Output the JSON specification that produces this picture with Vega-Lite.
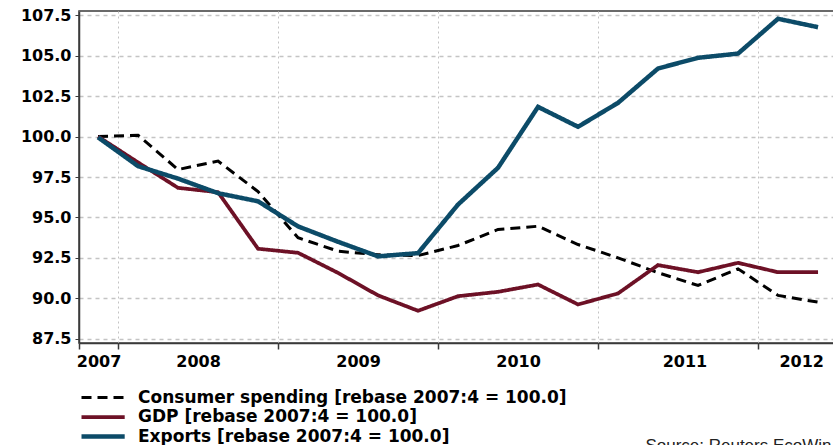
{
  "$schema": "https://vega.github.io/schema/vega-lite/v6.json",
  "autosize": "none",
  "width": 760,
  "height": 332,
  "padding": {"left": 79, "top": 11, "right": 0, "bottom": 102},
  "background": "white",
  "config": {
    "view": {"stroke": "#3a3a3a", "strokeWidth": 1.5},
    "font": "DejaVu Sans"
  },
  "title": {
    "text": "Source: Reuters EcoWin",
    "orient": "bottom",
    "anchor": "start",
    "font": "Liberation Sans",
    "fontSize": 17,
    "fontWeight": "normal",
    "color": "#222222",
    "offset": -8,
    "dx": 625
  },
  "datasets": {
    "series": [
      {"t": 2007.875, "s": "Consumer spending [rebase 2007:4 = 100.0]", "v": 100.0},
      {"t": 2008.125, "s": "Consumer spending [rebase 2007:4 = 100.0]", "v": 100.08},
      {"t": 2008.375, "s": "Consumer spending [rebase 2007:4 = 100.0]", "v": 97.96},
      {"t": 2008.625, "s": "Consumer spending [rebase 2007:4 = 100.0]", "v": 98.48},
      {"t": 2008.875, "s": "Consumer spending [rebase 2007:4 = 100.0]", "v": 96.6},
      {"t": 2009.125, "s": "Consumer spending [rebase 2007:4 = 100.0]", "v": 93.75},
      {"t": 2009.375, "s": "Consumer spending [rebase 2007:4 = 100.0]", "v": 92.92},
      {"t": 2009.625, "s": "Consumer spending [rebase 2007:4 = 100.0]", "v": 92.7},
      {"t": 2009.875, "s": "Consumer spending [rebase 2007:4 = 100.0]", "v": 92.65},
      {"t": 2010.125, "s": "Consumer spending [rebase 2007:4 = 100.0]", "v": 93.27},
      {"t": 2010.375, "s": "Consumer spending [rebase 2007:4 = 100.0]", "v": 94.26},
      {"t": 2010.625, "s": "Consumer spending [rebase 2007:4 = 100.0]", "v": 94.46},
      {"t": 2010.875, "s": "Consumer spending [rebase 2007:4 = 100.0]", "v": 93.33},
      {"t": 2011.125, "s": "Consumer spending [rebase 2007:4 = 100.0]", "v": 92.51},
      {"t": 2011.375, "s": "Consumer spending [rebase 2007:4 = 100.0]", "v": 91.59},
      {"t": 2011.625, "s": "Consumer spending [rebase 2007:4 = 100.0]", "v": 90.8},
      {"t": 2011.875, "s": "Consumer spending [rebase 2007:4 = 100.0]", "v": 91.83},
      {"t": 2012.125, "s": "Consumer spending [rebase 2007:4 = 100.0]", "v": 90.19},
      {"t": 2012.375, "s": "Consumer spending [rebase 2007:4 = 100.0]", "v": 89.77},
      {"t": 2007.875, "s": "GDP [rebase 2007:4 = 100.0]", "v": 100.0},
      {"t": 2008.125, "s": "GDP [rebase 2007:4 = 100.0]", "v": 98.4},
      {"t": 2008.375, "s": "GDP [rebase 2007:4 = 100.0]", "v": 96.83},
      {"t": 2008.625, "s": "GDP [rebase 2007:4 = 100.0]", "v": 96.56},
      {"t": 2008.875, "s": "GDP [rebase 2007:4 = 100.0]", "v": 93.07},
      {"t": 2009.125, "s": "GDP [rebase 2007:4 = 100.0]", "v": 92.82},
      {"t": 2009.375, "s": "GDP [rebase 2007:4 = 100.0]", "v": 91.58},
      {"t": 2009.625, "s": "GDP [rebase 2007:4 = 100.0]", "v": 90.19},
      {"t": 2009.875, "s": "GDP [rebase 2007:4 = 100.0]", "v": 89.24},
      {"t": 2010.125, "s": "GDP [rebase 2007:4 = 100.0]", "v": 90.14},
      {"t": 2010.375, "s": "GDP [rebase 2007:4 = 100.0]", "v": 90.41},
      {"t": 2010.625, "s": "GDP [rebase 2007:4 = 100.0]", "v": 90.86},
      {"t": 2010.875, "s": "GDP [rebase 2007:4 = 100.0]", "v": 89.63},
      {"t": 2011.125, "s": "GDP [rebase 2007:4 = 100.0]", "v": 90.31},
      {"t": 2011.375, "s": "GDP [rebase 2007:4 = 100.0]", "v": 92.06},
      {"t": 2011.625, "s": "GDP [rebase 2007:4 = 100.0]", "v": 91.62},
      {"t": 2011.875, "s": "GDP [rebase 2007:4 = 100.0]", "v": 92.2},
      {"t": 2012.125, "s": "GDP [rebase 2007:4 = 100.0]", "v": 91.62},
      {"t": 2012.375, "s": "GDP [rebase 2007:4 = 100.0]", "v": 91.62},
      {"t": 2007.875, "s": "Exports [rebase 2007:4 = 100.0]", "v": 99.95},
      {"t": 2008.125, "s": "Exports [rebase 2007:4 = 100.0]", "v": 98.17},
      {"t": 2008.375, "s": "Exports [rebase 2007:4 = 100.0]", "v": 97.4},
      {"t": 2008.625, "s": "Exports [rebase 2007:4 = 100.0]", "v": 96.5},
      {"t": 2008.875, "s": "Exports [rebase 2007:4 = 100.0]", "v": 96.0},
      {"t": 2009.125, "s": "Exports [rebase 2007:4 = 100.0]", "v": 94.45},
      {"t": 2009.375, "s": "Exports [rebase 2007:4 = 100.0]", "v": 93.5},
      {"t": 2009.625, "s": "Exports [rebase 2007:4 = 100.0]", "v": 92.6},
      {"t": 2009.875, "s": "Exports [rebase 2007:4 = 100.0]", "v": 92.8},
      {"t": 2010.125, "s": "Exports [rebase 2007:4 = 100.0]", "v": 95.8},
      {"t": 2010.375, "s": "Exports [rebase 2007:4 = 100.0]", "v": 98.07},
      {"t": 2010.625, "s": "Exports [rebase 2007:4 = 100.0]", "v": 101.83},
      {"t": 2010.875, "s": "Exports [rebase 2007:4 = 100.0]", "v": 100.6},
      {"t": 2011.125, "s": "Exports [rebase 2007:4 = 100.0]", "v": 102.08},
      {"t": 2011.375, "s": "Exports [rebase 2007:4 = 100.0]", "v": 104.2},
      {"t": 2011.625, "s": "Exports [rebase 2007:4 = 100.0]", "v": 104.86},
      {"t": 2011.875, "s": "Exports [rebase 2007:4 = 100.0]", "v": 105.12},
      {"t": 2012.125, "s": "Exports [rebase 2007:4 = 100.0]", "v": 107.27},
      {"t": 2012.375, "s": "Exports [rebase 2007:4 = 100.0]", "v": 106.75}
    ]
  },
  "data": {"name": "series"},
  "resolve": {"axis": {"x": "independent"}},
  "layer": [
    {
      "mark": {"type": "line", "strokeJoin": "miter", "strokeCap": "butt"},
      "encoding": {
        "x": {
          "field": "t",
          "type": "quantitative",
          "scale": {"domain": [2007.756, 2012.506], "nice": false, "zero": false},
          "axis": {
            "orient": "bottom",
            "title": null,
            "values": [2007.756, 2008, 2009, 2010, 2011, 2012],
            "labels": false,
            "ticks": true,
            "tickSize": 6,
            "tickColor": "#3a3a3a",
            "tickWidth": 1.5,
            "domainColor": "#3a3a3a",
            "domainWidth": 1.5,
            "grid": true,
            "gridColor": "#c4c4c4",
            "gridDash": [2, 3],
            "gridWidth": 1
          }
        },
        "y": {
          "field": "v",
          "type": "quantitative",
          "scale": {"domain": [87.25, 107.75], "nice": false, "zero": false},
          "axis": {
            "title": null,
            "values": [87.5, 90, 92.5, 95, 97.5, 100, 102.5, 105, 107.5],
            "format": ".1f",
            "labelFont": "DejaVu Sans",
            "labelFontSize": 16,
            "labelFontWeight": "bold",
            "labelColor": "#000000",
            "labelPadding": 4,
            "tickSize": 4,
            "tickColor": "#3a3a3a",
            "domainColor": "#3a3a3a",
            "domainWidth": 1.5,
            "grid": true,
            "gridColor": "#c4c4c4",
            "gridDash": [4, 4],
            "gridWidth": 1.5
          }
        },
        "color": {
          "field": "s",
          "type": "nominal",
          "scale": {
            "domain": ["Consumer spending [rebase 2007:4 = 100.0]", "GDP [rebase 2007:4 = 100.0]", "Exports [rebase 2007:4 = 100.0]"],
            "range": ["#000000", "#6D1126", "#0C4B68"]
          },
          "legend": {
            "title": null,
            "orient": "none",
            "legendX": 12.6,
            "legendY": 376,
            "direction": "vertical",
            "symbolType": "M-2.4,0H2.4",
            "symbolSize": 324,
            "labelFont": "DejaVu Sans",
            "labelFontSize": 17,
            "labelFontWeight": "bold",
            "labelColor": "#000000",
            "labelOffset": 23.4,
            "rowPadding": -1,
            "labelLimit": 700
          }
        },
        "strokeDash": {
          "field": "s",
          "type": "nominal",
          "scale": {
            "domain": ["Consumer spending [rebase 2007:4 = 100.0]", "GDP [rebase 2007:4 = 100.0]", "Exports [rebase 2007:4 = 100.0]"],
            "range": [[10, 6], [1, 0], [1, 0]]
          }
        },
        "strokeWidth": {
          "field": "s",
          "type": "nominal",
          "scale": {
            "domain": ["Consumer spending [rebase 2007:4 = 100.0]", "GDP [rebase 2007:4 = 100.0]", "Exports [rebase 2007:4 = 100.0]"],
            "range": [3, 4.5, 5.5]
          }
        },
        "order": {"field": "t", "type": "quantitative"}
      }
    },
    {
      "mark": {"type": "line", "opacity": 0},
      "encoding": {
        "x": {
          "field": "t",
          "type": "quantitative",
          "axis": {
            "orient": "bottom",
            "title": null,
            "values": [2007.878, 2008.5, 2009.5, 2010.5, 2011.54, 2012.27],
            "labelExpr": "'' + floor(datum.value)",
            "ticks": false,
            "domain": false,
            "grid": false,
            "labelPadding": 10,
            "labelFont": "DejaVu Sans",
            "labelFontSize": 16,
            "labelFontWeight": "bold",
            "labelColor": "#000000",
            "labelOverlap": false
          }
        },
        "y": {"field": "v", "type": "quantitative"},
        "detail": {"field": "s", "type": "nominal"}
      }
    }
  ]
}
